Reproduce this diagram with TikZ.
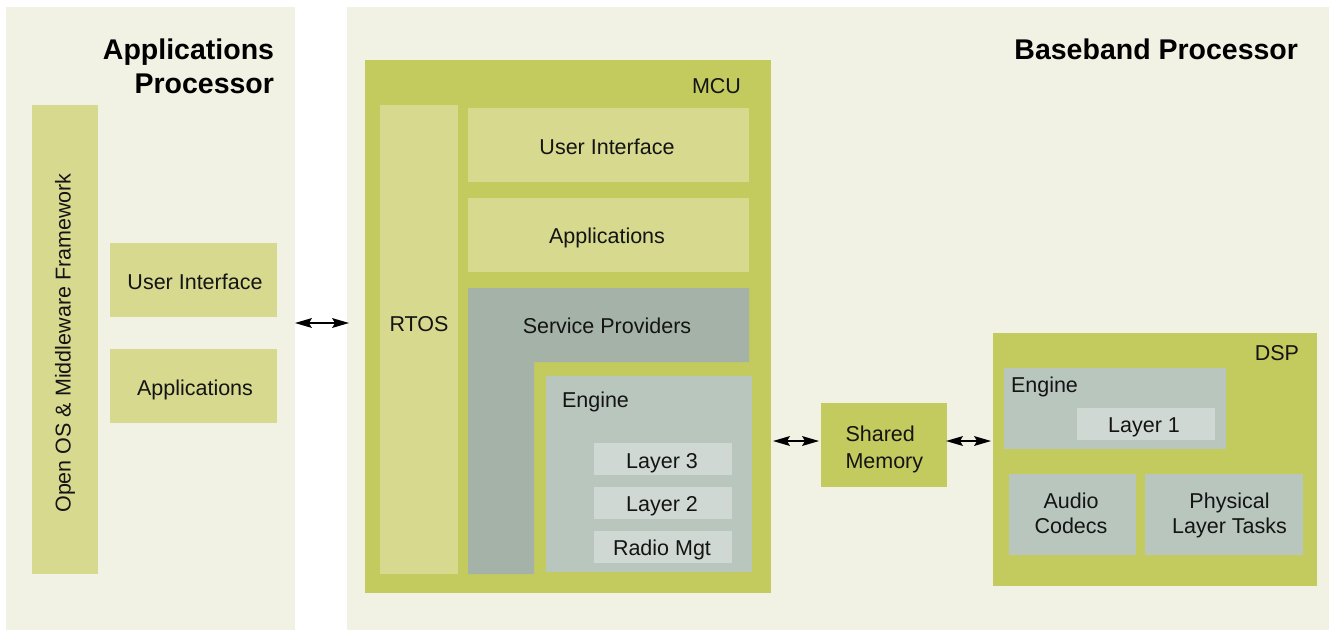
\documentclass[tikz,border=0pt]{standalone}
\usepackage{fontspec}
\setmainfont{Liberation Sans}
\usetikzlibrary{arrows.meta}
\definecolor{panelbg}{HTML}{F1F2E3}
\definecolor{olive}{HTML}{C3CA5E}
\definecolor{lightolive}{HTML}{D6D98E}
\definecolor{spgray}{HTML}{A5B2A8}
\definecolor{enggray}{HTML}{B9C6BE}
\definecolor{laygray}{HTML}{D0D8D3}
\definecolor{txt}{HTML}{141414}
\tikzset{
  box/.style={draw=none, inner sep=0pt, outer sep=0pt, anchor=north west, text=txt},
  panel/.style={box, fill=panelbg},
  oliveb/.style={box, fill=olive},
  lightb/.style={box, fill=lightolive},
  engb/.style={box, fill=enggray},
  layb/.style={box, fill=laygray},
  lbl/.style={inner sep=0pt, outer sep=0pt, text=txt, anchor=base, font=\fontsize{21.5}{26}\selectfont},
  title/.style={inner sep=0pt, outer sep=0pt, text=black, font=\fontsize{28.5}{34}\selectfont\bfseries},
  shaft/.style={line width=2.2pt, black},
  tipfill/.style={fill=black, draw=none}
}
\newcommand{\bx}[6]{\node[#1, minimum width=#4pt-#2pt, minimum height=#5pt-#3pt] (#6) at (#2,#3) {};}
% double arrow between two coordinates on a horizontal line, with heads drawn as filled shapes
\newcommand{\dblarrow}[2]{%
  \draw[shaft] ([xshift=8pt]#1) -- ([xshift=-8pt]#2);
  \fill[tipfill] (#1) -- ++(17,-5) -- ++(-3,5) -- ++(3,5) -- cycle;
  \fill[tipfill] (#2) -- ++(-17,-5) -- ++(3,5) -- ++(-3,5) -- cycle;
}
\begin{document}
\begin{tikzpicture}[x=1pt,y=-1pt]
\useasboundingbox (0,0) rectangle (1329,630);
\fill[white] (0,0) rectangle (1329,630);
% panels
\bx{panel}{6}{7}{295}{630}{appp}
\bx{panel}{347}{7}{1329}{630}{bbp}
\node[title, anchor=base east] (apt1) at (274,59) {Applications};
\node[title, anchor=base east] (apt2) at (274,93) {Processor};
\node[title, anchor=base east] (bbt) at (1298,59) {Baseband Processor};
% applications processor content
\bx{lightb}{32}{105}{98}{574}{oscol}
\node[lbl, rotate=90, anchor=center] (ostxt) at (65,343) {Open OS \& Middleware Framework};
\bx{lightb}{110}{243}{277}{317}{aui}
\node[lbl] (auit) at (195,289.5) {User Interface};
\bx{lightb}{110}{349}{277}{423}{aapp}
\node[lbl] (aappt) at (195,395) {Applications};
% MCU
\bx{oliveb}{365}{60}{771}{593}{mcu}
\node[lbl, anchor=base east] (mcut) at (741,93) {MCU};
\bx{lightb}{380}{105}{458}{574}{rtos}
\node[lbl] (rtost) at (419,331) {RTOS};
\bx{lightb}{468}{108}{749}{182}{mui}
\node[lbl] (muit) at (607,154) {User Interface};
\bx{lightb}{468}{198}{749}{272}{mapp}
\node[lbl] (mappt) at (607,243.5) {Applications};
\fill[spgray] (468,288) -- (749,288) -- (749,362) -- (534,362) -- (534,574) -- (468,574) -- cycle;
\node[lbl] (spt) at (607,333) {Service Providers};
\bx{engb}{546}{376}{752}{572}{meng}
\node[lbl, anchor=base west] (mengt) at (562,407) {Engine};
\bx{layb}{594}{443}{732}{475}{l3}
\node[lbl] (l3t) at (662,468) {Layer 3};
\bx{layb}{594}{487}{732}{519}{l2}
\node[lbl] (l2t) at (662,511) {Layer 2};
\bx{layb}{594}{531}{732}{563}{rm}
\node[lbl] (rmt) at (662,555) {Radio Mgt};
% shared memory
\bx{oliveb}{821}{403}{947}{487}{shm}
\node[lbl, anchor=base west] (shmt1) at (845.5,441.7) {Shared};
\node[lbl, anchor=base west] (shmt2) at (845.5,468.3) {Memory};
% DSP
\bx{oliveb}{993}{333}{1317}{586}{dsp}
\node[lbl, anchor=base east] (dspt) at (1299,360) {DSP};
\bx{engb}{1004}{368}{1226}{449}{deng}
\node[lbl, anchor=base west] (dengt) at (1011,392) {Engine};
\bx{layb}{1077}{408}{1215}{440}{l1}
\node[lbl] (l1t) at (1144,432) {Layer 1};
\bx{engb}{1009}{474}{1136}{555}{aud}
\node[lbl] (audt1) at (1071,508.3) {Audio};
\node[lbl] (audt2) at (1071,533.3) {Codecs};
\bx{engb}{1145}{474}{1303}{555}{phy}
\node[lbl] (phyt1) at (1229.5,508.3) {Physical};
\node[lbl] (phyt2) at (1229.5,533.3) {Layer Tasks};
% arrows
\coordinate (a1l) at (295,323);
\coordinate (a1r) at (349,323);
\dblarrow{a1l}{a1r}
\coordinate (a2l) at (773,441);
\coordinate (a2r) at (819,441);
\dblarrow{a2l}{a2r}
\coordinate (a3l) at (946,441);
\coordinate (a3r) at (991,441);
\dblarrow{a3l}{a3r}
\end{tikzpicture}
\end{document}
